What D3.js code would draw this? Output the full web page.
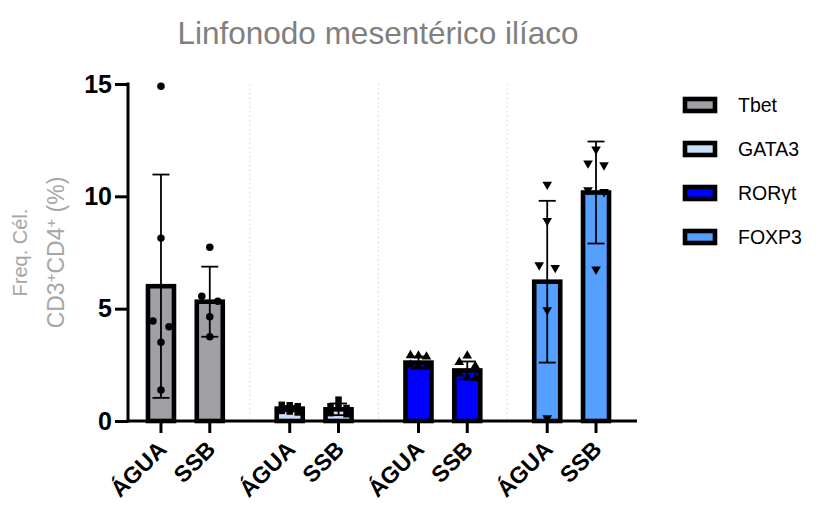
<!DOCTYPE html>
<html><head><meta charset="utf-8">
<script src="https://cdn.jsdelivr.net/npm/d3@7"></script>
<style>body{margin:0;background:#fff}svg{display:block}</style>
</head><body>
<svg id="c" width="828" height="506"></svg>
<script>
const markers = ["Tbet", "GATA3", "RORγt", "FOXP3"];
const groups = ["ÁGUA", "SSB"];
const colors = ["#a0a0a4", "#c9ddf7", "#0000ff", "#559fff"];
const symbols = ["circle", "square", "triangle", "triangleDown"];
const yTicks = [0, 5, 10, 15];
// bar means [ÁGUA, SSB] per marker
const means = [[6.0, 5.31], [0.55, 0.52], [2.6, 2.25], [6.2, 10.17]];
const sds = [[4.97, 1.56], [0.12, 0.26], [0.27, 0.4], [3.6, 2.27]];
// individual points
const pointsTbet = [[14.9, 8.14, 4.45, 4.2, 3.5, 1.38], [7.73, 5.55, 5.33, 4.64, 3.75]];
const pointsGATA3 = [[0.72, 0.7, 0.66, 0.45, 0.42, 0.38], [0.95, 0.66, 0.62, 0.58, 0.35, 0.3]];
const pointsROR = [[2.92, 2.9, 2.86, 2.5, 2.45, 2.42], [2.9, 2.62, 2.45, 2.1, 1.95, 1.9]];
const pointsFOXP3 = [[10.53, 8.91, 6.94, 6.82, 4.94, 0.13], [12.09, 11.47, 11.39, 10.28, 10.2, 6.75]];
const allPoints = [pointsTbet, pointsGATA3, pointsROR, pointsFOXP3];

const svg = d3.select("#c");
const font = "'Liberation Sans', Arial, Helvetica, sans-serif";
const y = d3.scaleLinear().domain([0, 15]).range([421, 84]);
const xg = d3.scaleBand().domain(markers).range([121, 636]);
const xi = d3.scalePoint().domain(groups).range([-24.4, 24.4]);
const cx = (m, g) => xg(m) + xg.bandwidth() / 2 + xi(g);
const barW = 26;

// separators
markers.slice(1).forEach(m => {
  svg.append("line").attr("x1", xg(m)).attr("x2", xg(m)).attr("y1", y(15)).attr("y2", y(0))
    .attr("stroke", "#d4d4d4").attr("stroke-width", 1).attr("stroke-dasharray", "1.5,3");
});

// bars
markers.forEach((m, mi) => {
  groups.forEach((g, gi) => {
    const v = means[mi][gi];
    svg.append("rect").attr("x", cx(m, g) - barW / 2).attr("y", y(v))
      .attr("width", barW).attr("height", y(0) - y(v))
      .attr("fill", colors[mi]).attr("stroke", "#000").attr("stroke-width", 4.6);
  });
});

// points with simple clustering
const symMap = {circle: d3.symbolCircle, square: d3.symbolSquare, triangle: d3.symbolTriangle, triangleDown: d3.symbolTriangle};
markers.forEach((m, mi) => {
  groups.forEach((g, gi) => {
    const pts = allPoints[mi][gi].slice().sort((a, b) => b - a);
    const clusters = [];
    pts.forEach(v => {
      const last = clusters[clusters.length - 1];
      if (last && Math.abs(y(v) - y(last[0])) < 6) last.push(v); else clusters.push([v]);
    });
    clusters.forEach(cl => {
      cl.forEach((v, i) => {
        const off = (i - (cl.length - 1) / 2) * 16 / (cl.length > 2 ? 2 : 1);
        const sym = d3.symbol().type(symMap[symbols[mi]]).size(symbols[mi] === "circle" ? 44 : (symbols[mi] === "square" ? 42 : 40));
        svg.append("path").attr("d", sym())
          .attr("transform", `translate(${cx(m, g) + off},${y(v)})` + (symbols[mi] === "triangleDown" ? " rotate(180)" : ""))
          .attr("fill", "#000");
      });
    });
  });
});

// error bars
markers.forEach((m, mi) => {
  groups.forEach((g, gi) => {
    const v = means[mi][gi], s = sds[mi][gi], x0 = cx(m, g);
    const e = svg.append("g").attr("stroke", "#000").attr("stroke-width", 1.8);
    e.append("line").attr("x1", x0).attr("x2", x0).attr("y1", y(v + s)).attr("y2", y(Math.max(0, v - s)));
    e.append("line").attr("x1", x0 - 8.5).attr("x2", x0 + 8.5).attr("y1", y(v + s)).attr("y2", y(v + s));
    e.append("line").attr("x1", x0 - 8.5).attr("x2", x0 + 8.5).attr("y1", y(Math.max(0, v - s))).attr("y2", y(Math.max(0, v - s)));
  });
});

// axes
const ya = svg.append("g").attr("transform", "translate(128,0)")
  .call(d3.axisLeft(y).tickValues(yTicks).tickSize(13).tickPadding(3).tickFormat(d3.format("d")));
ya.select(".domain").remove();
ya.selectAll(".tick line").attr("stroke-width", 3);
ya.selectAll("text").attr("font-family", font).attr("font-size", 25).attr("font-weight", "bold").attr("fill", "#000");
svg.append("line").attr("x1", 128).attr("x2", 128).attr("y1", y(15) - 1.5).attr("y2", y(0) + 1.5)
  .attr("stroke", "#000").attr("stroke-width", 3);
svg.append("line").attr("x1", 126.5).attr("x2", 637).attr("y1", y(0)).attr("y2", y(0))
  .attr("stroke", "#000").attr("stroke-width", 3);

markers.forEach(m => groups.forEach(g => {
  const x0 = cx(m, g);
  svg.append("line").attr("x1", x0).attr("x2", x0).attr("y1", y(0)).attr("y2", y(0) + 12)
    .attr("stroke", "#000").attr("stroke-width", 3);
  svg.append("text").text(g)
    .attr("transform", `translate(${x0 + 1.3},${445}) rotate(-45)`)
    .attr("text-anchor", "end").attr("dy", "0.35em")
    .attr("font-family", font).attr("font-size", 23).attr("font-weight", "bold").attr("fill", "#000");
}));

// y title
const yt = svg.append("text").attr("transform", `translate(0,${(y(0) + y(15)) / 2}) rotate(-90)`)
  .attr("text-anchor", "middle").attr("font-family", font).attr("font-size", 20).attr("fill", "#a6a6a6");
yt.append("tspan").attr("x", 0).attr("y", 27).text("Freq. Cél.");
const l2 = yt.append("tspan").attr("x", 0).attr("y", 63.5).attr("font-size", 23);
l2.append("tspan").text("CD3");
l2.append("tspan").attr("baseline-shift", "super").attr("font-size", 15).text("+");
l2.append("tspan").text("CD4");
l2.append("tspan").attr("baseline-shift", "super").attr("font-size", 15).text("+");
l2.append("tspan").text(" (%)");

// title
svg.append("text").attr("x", 378).attr("y", 44).attr("text-anchor", "middle")
  .attr("font-family", font).attr("font-size", 31.5).attr("fill", "#808080").text("Linfonodo mesentérico ilíaco");

// legend
const legY = d3.scalePoint().domain(markers).range([105, 237]);
markers.forEach((m, mi) => {
  svg.append("rect").attr("x", 685).attr("y", legY(m) - 6).attr("width", 30).attr("height", 12)
    .attr("fill", colors[mi]).attr("stroke", "#000").attr("stroke-width", 4.6);
  svg.append("text").attr("x", 738).attr("y", legY(m)).attr("dy", "0.36em")
    .attr("font-family", font).attr("font-size", 19.5).attr("fill", "#000").text(m);
});
</script>
</body></html>
